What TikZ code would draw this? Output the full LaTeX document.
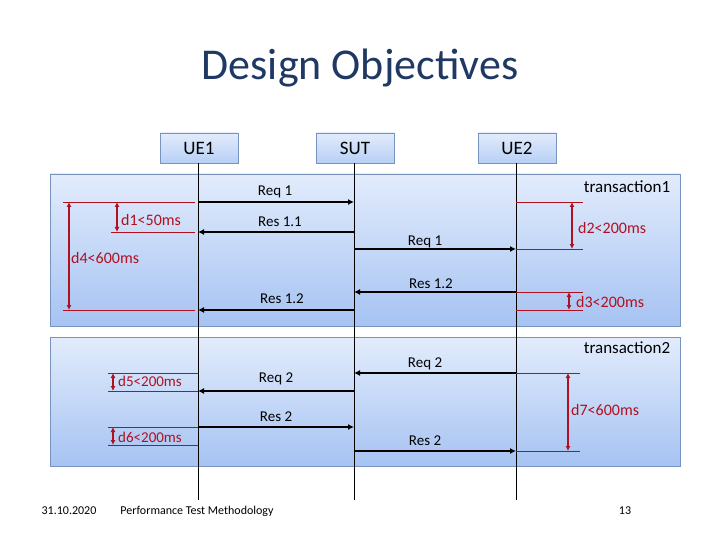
\documentclass[tikz,border=0pt]{standalone}
\usepackage{fontspec}
\setmainfont{Carlito}
\usetikzlibrary{arrows.meta}
\definecolor{topc}{HTML}{E2ECFC}
\definecolor{botc}{HTML}{A6C3F2}
\definecolor{edgec}{HTML}{7893BE}
\definecolor{dred}{HTML}{B01020}
\definecolor{ttl}{HTML}{1F3864}
\tikzset{
 panel/.style={draw=edgec,top color=topc,bottom color=botc,line width=0.8pt},
 head/.style={draw=edgec,top color=topc,bottom color=botc!80,minimum width=78pt,minimum height=30pt,font=\fontsize{19}{19}\selectfont,line width=0.8pt},
 life/.style={line width=0.8pt},
 msg/.style={line width=1.6pt,-{Latex[length=6pt,width=6pt]}},
 lbl/.style={font=\fontsize{15}{15}\selectfont},
 rl/.style={draw=dred,line width=0.7pt},
 dar/.style={draw=dred,line width=1.6pt,{Latex[length=5pt,width=5pt]}-{Latex[length=5pt,width=5pt]}},
 rlbl/.style={text=dred,font=\fontsize{16}{16}\selectfont,anchor=west,inner sep=1pt},
 foot/.style={font=\fontsize{12}{12}\selectfont}
}
\begin{document}
\begin{tikzpicture}[x=1pt,y=-1pt]
\useasboundingbox (0,0) rectangle (720,540);
\node[font=\fontsize{44}{44}\selectfont,text=ttl] (title) at (360,68) {Design Objectives};
\draw[panel] (50,174) rectangle (680,326);
\draw[panel] (50,337) rectangle (680,466);
\node[head] (ue1) at (199,148) {UE1};
\node[head] (sut) at (355,148) {SUT};
\node[head] (ue2) at (517,148) {UE2};
\coordinate (e1) at (198,500); \coordinate (e2) at (354,500); \coordinate (e3) at (516,500);
\draw[life] (198,163) -- (e1); \draw[life] (354,163) -- (e2); \draw[life] (516,163) -- (e3);
% transaction1
\node[lbl,font=\fontsize{17}{17}\selectfont] (t1) at (627,187) {transaction1};
\coordinate (a1) at (198,202); \coordinate (b1) at (354,202);
\draw[msg] (a1) -- (b1); \node[lbl] (l1) at (275,192) {Req 1};
\coordinate (a2) at (354,232); \coordinate (b2) at (198,232);
\draw[msg] (a2) -- (b2); \node[lbl] (l2) at (280,222) {Res 1.1};
\coordinate (a3) at (354,249); \coordinate (b3) at (516,249);
\draw[msg] (a3) -- (b3); \node[lbl] (l3) at (425,242) {Req 1};
\coordinate (a4) at (516,292); \coordinate (b4) at (354,292);
\draw[msg] (a4) -- (b4); \node[lbl] (l4) at (431,284) {Res 1.2};
\coordinate (a5) at (354,310); \coordinate (b5) at (198,310);
\draw[msg] (a5) -- (b5); \node[lbl] (l5) at (282,299) {Res 1.2};
\draw[rl] (63,202) -- (195,202); \draw[rl] (111,232) -- (195,232); \draw[rl] (63,310) -- (195,310);
\coordinate (d4a) at (69,202); \coordinate (d4b) at (69,310); \draw[dar] (d4a) -- (d4b);
\node[rlbl] (d4) at (70,258) {d4<600ms};
\coordinate (d1a) at (117,202); \coordinate (d1b) at (117,232); \draw[dar] (d1a) -- (d1b);
\node[rlbl] (d1) at (120,220) {d1<50ms};
\draw[rl] (516,202) -- (583,202); \draw[rl] (516,249) -- (583,249);
\coordinate (d2a) at (572,202); \coordinate (d2b) at (572,249); \draw[dar] (d2a) -- (d2b);
\node[rlbl] (d2) at (577,228) {d2<200ms};
\draw[rl] (516,292) -- (583,292); \draw[rl] (516,310) -- (583,310);
\coordinate (d3a) at (569,292); \coordinate (d3b) at (569,310); \draw[dar] (d3a) -- (d3b);
\node[rlbl] (d3) at (575,302) {d3<200ms};
% transaction2
\node[lbl,font=\fontsize{17}{17}\selectfont] (t2) at (627,348) {transaction2};
\coordinate (c1) at (516,373); \coordinate (f1) at (354,373);
\draw[msg] (c1) -- (f1); \node[lbl] (m1) at (425,364) {Req 2};
\coordinate (c2) at (354,391); \coordinate (f2) at (198,391);
\draw[msg] (c2) -- (f2); \node[lbl] (m2) at (276,379) {Req 2};
\coordinate (c3) at (198,427); \coordinate (f3) at (354,427);
\draw[msg] (c3) -- (f3); \node[lbl] (m3) at (276,417) {Res 2};
\coordinate (c4) at (354,451); \coordinate (f4) at (516,451);
\draw[msg] (c4) -- (f4); \node[lbl] (m4) at (425,441) {Res 2};
\draw[rl] (108,373) -- (198,373); \draw[rl] (108,391) -- (198,391);
\coordinate (d5a) at (113,373); \coordinate (d5b) at (113,391); \draw[dar] (d5a) -- (d5b);
\node[rlbl,font=\fontsize{15}{15}\selectfont] (d5) at (117,381) {d5<200ms};
\draw[rl] (108,427) -- (198,427); \draw[rl] (108,445) -- (198,445);
\coordinate (d6a) at (113,427); \coordinate (d6b) at (113,445); \draw[dar] (d6a) -- (d6b);
\node[rlbl,font=\fontsize{15}{15}\selectfont] (d6) at (117,437) {d6<200ms};
\draw[rl] (516,373) -- (580,373); \draw[rl] (516,451) -- (580,451);
\coordinate (d7a) at (568,373); \coordinate (d7b) at (568,451); \draw[dar] (d7a) -- (d7b);
\node[rlbl] (d7) at (570,410) {d7<600ms};
% footer
\node[foot] (date) at (69,511) {31.10.2020};
\node[foot] (ptm) at (197,511) {Performance Test Methodology};
\node[foot] (pg) at (625,511) {13};
\end{tikzpicture}
\end{document}
